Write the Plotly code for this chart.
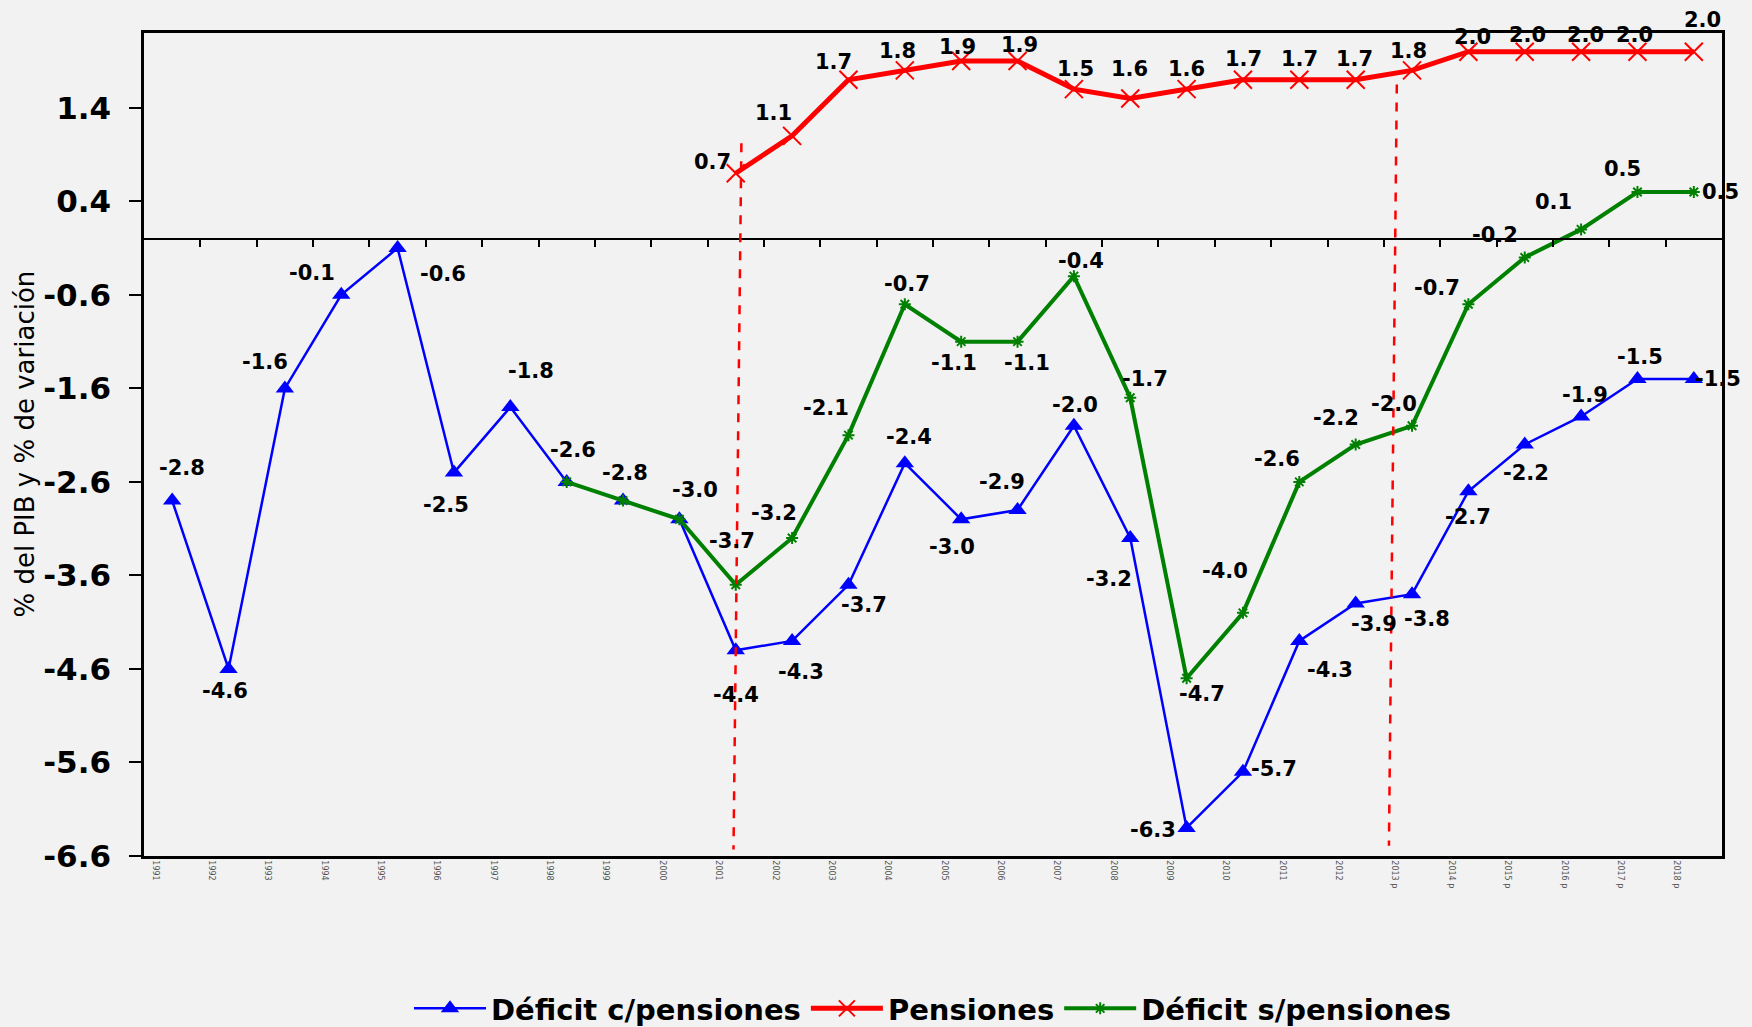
import plotly.graph_objects as go

# ---------------- data ----------------
years = [str(y) for y in range(1991, 2013)] + [f"{y} p" for y in range(2013, 2019)]

deficit_c = [-2.8, -4.6, -1.6, -0.6, -0.1, -2.5, -1.8, -2.6, -2.8, -3.0, -4.4, -4.3, -3.7, -2.4,
             -3.0, -2.9, -2.0, -3.2, -6.3, -5.7, -4.3, -3.9, -3.8, -2.7, -2.2, -1.9, -1.5, -1.5]
deficit_c_labels = ["-2.8", "-4.6", "-1.6", "-0.1", "-0.6", "-2.5", "-1.8", "-2.6", "-2.8", "-3.0",
                    "-4.4", "-4.3", "-3.7", "-2.4", "-3.0", "-2.9", "-2.0", "-3.2", "-6.3", "-5.7",
                    "-4.3", "-3.9", "-3.8", "-2.7", "-2.2", "-1.9", "-1.5", "-1.5"]

pensiones = [None] * 10 + [0.7, 1.1, 1.7, 1.8, 1.9, 1.9, 1.6, 1.5, 1.6, 1.7, 1.7, 1.7, 1.8,
                           2.0, 2.0, 2.0, 2.0, 2.0]
pensiones_labels = [""] * 10 + ["0.7", "1.1", "1.7", "1.8", "1.9", "1.9", "1.5", "1.6", "1.6",
                                "1.7", "1.7", "1.7", "1.8", "2.0", "2.0", "2.0", "2.0", "2.0"]

deficit_s = [None] * 7 + [-2.6, -2.8, -3.0, -3.7, -3.2, -2.1, -0.7, -1.1, -1.1, -0.4, -1.7, -4.7,
                          -4.0, -2.6, -2.2, -2.0, -0.7, -0.2, 0.1, 0.5, 0.5]
deficit_s_labels = [""] * 10 + ["-3.7", "-3.2", "-2.1", "-0.7", "-1.1", "-1.1", "-0.4", "-1.7",
                                "-4.7", "-4.0", "-2.6", "-2.2", "-2.0", "-0.7", "-0.2", "0.1",
                                "0.5", "0.5"]

y_ticks = [1.4, 0.4, -0.6, -1.6, -2.6, -3.6, -4.6, -5.6, -6.6]

# label offsets in pixels (dx, dy up)
off_c = [(10, 33), (-4, -22), (-20, 26), (-29, 22), (45, -26), (-8, -32), (21, 36), (6, 32),
         (2, 28), (16, 29), (0, -45), (9, -31), (16, -20), (4, 26), (-9, -28), (-16, 28),
         (1, 21), (-21, -41), (-34, -2), (31, 3), (31, -29), (18, -21), (15, -25), (0, -26),
         (1, -28), (4, 21), (3, 22), (24, 0)]
off_p = [None] * 10 + [(-23, 11), (-19, 23), (-15, 18), (-7, 19), (-4, 14), (2, 16), (2, 20),
                       (-1, 29), (0, 20), (1, 21), (0, 21), (-1, 21), (-4, 19), (4, 15), (3, 17),
                       (4, 17), (-3, 17), (9, 32)]
off_s = [None] * 10 + [(-4, 44), (-18, 25), (-22, 27), (2, 20), (-7, -21), (9, -21), (7, 15),
                       (15, 19), (15, -16), (-18, 42), (-22, 23), (-20, 27), (-18, 22), (-31, 16),
                       (-30, 22), (-28, 27), (-15, 23), (27, 0)]

BLUE = "#0000FF"
RED = "#FF0000"
GREEN = "#008000"
FONT = "DejaVu Sans, Liberation Sans, Arial, sans-serif"
BG = "#F2F2F2"

x = list(range(len(years)))

fig = go.Figure()
fig.add_trace(go.Scatter(
    x=x, y=deficit_c, name="Déficit c/pensiones", mode="lines+markers",
    line=dict(color=BLUE, width=2.5),
    marker=dict(symbol="triangle-up", size=16, color=BLUE),
    hoverinfo="skip"))
fig.add_trace(go.Scatter(
    x=x, y=pensiones, name="Pensiones", mode="lines+markers",
    line=dict(color=RED, width=5),
    marker=dict(symbol="x-thin", size=18, color=RED, line=dict(color=RED, width=2)),
    hoverinfo="skip"))
fig.add_trace(go.Scatter(
    x=x, y=deficit_s, name="Déficit s/pensiones", mode="lines+markers",
    line=dict(color=GREEN, width=4),
    marker=dict(symbol="asterisk", size=10, color=GREEN, line=dict(color=GREEN, width=2)),
    xaxis="x2", hoverinfo="skip"))

# data labels
ann = []
for vals, labs, offs in [(deficit_c, deficit_c_labels, off_c),
                         (pensiones, pensiones_labels, off_p),
                         (deficit_s, deficit_s_labels, off_s)]:
    for i, (v, t, o) in enumerate(zip(vals, labs, offs)):
        if v is None or not t or o is None:
            continue
        ann.append(dict(x=i, y=v, xref="x", yref="y", text=t, showarrow=False,
                        xshift=o[0], yshift=o[1],
                        font=dict(family=FONT, size=21, color="black", weight="bold")))

# y-axis title
ann.append(dict(xref="paper", yref="paper", x=-0.076, y=0.5, text="% del PIB y % de variación",
                textangle=-90, showarrow=False, xanchor="center", yanchor="middle",
                font=dict(family=FONT, size=26, color="black")))

# dashed vertical reference lines
shapes = [
    dict(type="line", xref="x", yref="y", x0=10.1, y0=1.02, x1=9.96, y1=-6.53,
         line=dict(color=RED, width=2.5, dash="dash")),
    dict(type="line", xref="x", yref="y", x0=21.73, y0=1.65, x1=21.59, y1=-6.49,
         line=dict(color=RED, width=2.5, dash="dash")),
]

fig.update_layout(
    width=1752, height=1027,
    margin=dict(l=144, r=30, t=33, b=171),
    paper_bgcolor=BG, plot_bgcolor=BG,
    font=dict(family=FONT, color="black"),
    showlegend=True,
    legend=dict(orientation="h", x=0.5, xanchor="center", xref="paper",
                y=0.018, yanchor="middle", yref="container",
                font=dict(family=FONT, size=29, color="black", weight="bold"),
                itemwidth=72, bgcolor="rgba(0,0,0,0)"),
    xaxis=dict(range=[-0.5, 27.5], tickmode="array", tickvals=x, ticktext=years,
               tickangle=90, tickfont=dict(family=FONT, size=8, color="#555555"),
               ticks="", showline=True, linecolor="black", linewidth=2.5, mirror=True,
               showgrid=False, zeroline=False, ticklabelshift=-17),
    xaxis2=dict(range=[-0.5, 27.5], overlaying="x", anchor="free", position=0.75,
                side="bottom", tickmode="array", tickvals=[i + 0.5 for i in range(27)],
                ticks="outside", ticklen=7, tickwidth=1.5, tickcolor="black",
                showticklabels=False, showline=True, linecolor="black", linewidth=2,
                showgrid=False, zeroline=False),
    yaxis=dict(range=[-6.6, 2.2], tickmode="array", tickvals=y_ticks,
               ticktext=[f"{v:.1f}" for v in y_ticks],
               tickfont=dict(family=FONT, size=31, color="black", weight="bold"),
               ticks="outside", ticklen=12, tickwidth=2, tickcolor="black",
               ticklabelstandoff=12,
               showline=True, linecolor="black", linewidth=2.5, mirror=True,
               showgrid=False, zeroline=False),
    annotations=ann,
    shapes=shapes,
)

fig.write_html(
    "out.html",
    config={"displayModeBar": False},
    post_script="document.body.style.margin='0';document.body.style.background='#F2F2F2';",
)
